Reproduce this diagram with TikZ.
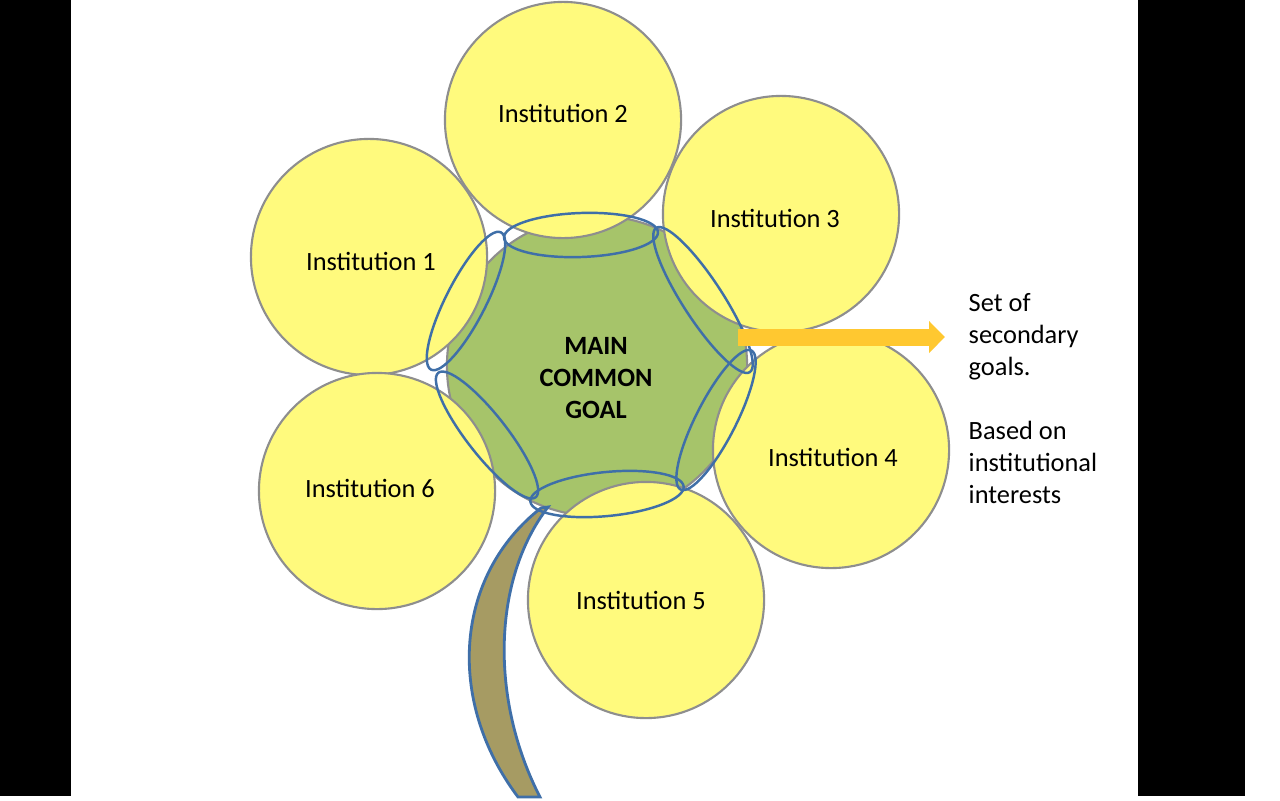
\documentclass[tikz,border=0pt]{standalone}
\usepackage{fontspec}
\setmainfont{Carlito}
\usepackage{xcolor}
\usetikzlibrary{arrows.meta}
\definecolor{petal}{HTML}{FFFA7D}
\definecolor{petalline}{HTML}{8E8E8E}
\definecolor{goalgreen}{HTML}{A6C46A}
\definecolor{ringblue}{HTML}{3F6FA8}
\definecolor{stembrown}{HTML}{A69B63}
\definecolor{arrowgold}{HTML}{FFC830}

\begin{document}
\begin{tikzpicture}[x=0.01cm,y=-0.01cm]
\tikzset{inst/.style={circle, fill=petal, draw=petalline, line width=0.6pt, minimum size=2.36cm, inner sep=0pt},
  ring/.style={draw=ringblue, line width=0.7pt},
  txt/.style={align=left, inner sep=0pt, font=\fontsize{7.5}{9.1}\selectfont}};
\useasboundingbox (0,0) rectangle (1280,800);
\fill[white] (0,0) rectangle (1280,800);
\fill[black] (0,0) rectangle (71,796);
\fill[black] (1138,0) rectangle (1245,796);
\node [circle, fill=goalgreen, draw=petalline, line width=0.6pt, minimum size=3.0cm] (goal) at (597,366) {};
\node [inst] (i1) at (369,257) {};
\node [inst] (i2) at (563,120) {};
\node [inst] (i3) at (781,214) {};
\node [inst] (i4) at (831,450) {};
\node [inst] (i5) at (646,600) {};
\node [inst] (i6) at (377,491) {};
\node [txt] (i1text) at (371,261) {Institution 1};
\node [txt] (i2text) at (563,113) {Institution 2};
\node [txt] (i3text) at (775,218) {Institution 3};
\node [txt] (i4text) at (833,457) {Institution 4};
\node [txt] (i5text) at (641,600) {Institution 5};
\node [txt] (i6text) at (370,488) {Institution 6};
\fill[stembrown, draw=ringblue, line width=0.8pt] (541,508) .. controls (455,575) and (445,700) .. (518,797) -- (540,797) .. controls (490,700) and (492,580) .. (548,507) -- cycle;
\draw[ring, rotate around={2:(581,235)}] (581,235) ellipse [x radius=77, y radius=22];
\draw[ring, rotate around={-57:(703,300)}] (703,300) ellipse [x radius=86, y radius=20];
\draw[ring, rotate around={63:(716,420)}] (716,420) ellipse [x radius=78, y radius=20];
\draw[ring, rotate around={5.6:(607,494)}] (607,494) ellipse [x radius=77, y radius=22];
\draw[ring, rotate around={-52:(487,435)}] (487,435) ellipse [x radius=79, y radius=20];
\draw[ring, rotate around={63:(466,301)}] (466,301) ellipse [x radius=77, y radius=20];
\node [txt, align=center, font=\fontsize{7.5}{9.1}\selectfont\bfseries] (goaltext) at (596,378) {MAIN\\COMMON\\GOAL};
\node [txt, anchor=west] (secondary) at (968,399) {Set of\\secondary\\goals.\\[9.1pt]Based on\\institutional\\interests};
\coordinate (arrstart) at (738,337);
\coordinate (arrend) at (945,337);
\draw[arrowgold, line width=0.17cm, -{Triangle[length=0.16cm,width=0.31cm]}] (arrstart) -- (arrend);
\end{tikzpicture}
\end{document}
